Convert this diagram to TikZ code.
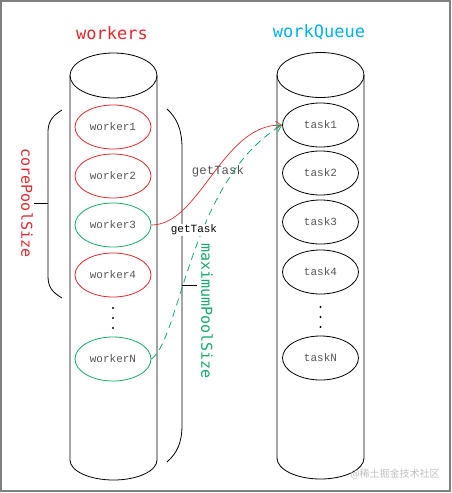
\documentclass[tikz,border=0pt]{standalone}
\usepackage{fontspec}
\newfontfamily\titlefont{DejaVu Sans Mono}
\newfontfamily\cellfont{Liberation Mono}
\newfontfamily\cjkfont{Noto Sans CJK SC}
\usepackage{tikz}
\usetikzlibrary{
    shapes.geometric,
    arrows.meta
}
\definecolor{wred}{RGB}{225,40,45}
\definecolor{wgreen}{RGB}{20,170,105}
\definecolor{qblue}{RGB}{0,176,240}
\definecolor{cellgray}{RGB}{85,85,85}
\tikzset{
    cell/.style={
        draw,
        ellipse,
        minimum width=76pt,
        minimum height=44pt,
        inner sep=0pt,
        line width=0.8pt,
        text=cellgray,
        font=\cellfont\fontsize{11}{11}\selectfont
    },
    title/.style={
        font=\titlefont\fontsize{17}{17}\selectfont
    },
    sizelabel/.style={
        rotate=-90,
        font=\titlefont\fontsize{15}{15}\selectfont
    },
    tube/.style={
        line width=0.8pt
    }
}

\begin{document}
\begin{tikzpicture}[
    x=1pt,
    y=-1pt,
    >={Straight Barb[length=6pt,width=7pt]}
]
    \useasboundingbox (0,0) rectangle (451,493);
    \draw[gray, line width=1.5pt] (1,1) rectangle (450,491);

    % Cylinders
    \draw[tube] (113.5,75.5) ellipse [x radius=43.5, y radius=22.5];
    \draw[tube] (70,75.5) -- (70,460)
        arc[start angle=180, end angle=0, x radius=43.5, y radius=20]
        -- (157,75.5);
    \draw[tube] (320.5,75) ellipse [x radius=43.5, y radius=22.5];
    \draw[tube] (277,75) -- (277,458)
        arc[start angle=180, end angle=0, x radius=43.5, y radius=21]
        -- (364,75);

    % Titles
    \node[title, text=wred]  (workers) at (112,33) {workers};
    \node[title, text=qblue] (queue)   at (319,32) {workQueue};

    % Workers
    \node[cell, draw=wred]   (w1) at (113,127) {worker1};
    \node[cell, draw=wred]   (w2) at (113,176) {worker2};
    \node[cell, draw=wgreen] (w3) at (113,225) {worker3};
    \node[cell, draw=wred]   (w4) at (113,275) {worker4};
    \node[cell, draw=wgreen] (wN) at (113,359) {workerN};
    \foreach \y in {308,318,328}
        \fill (113,\y) circle (1.2);

    % Tasks
    \node[cell] (t1) at (320.5,125) {task1};
    \node[cell] (t2) at (320.5,173) {task2};
    \node[cell] (t3) at (320.5,222) {task3};
    \node[cell] (t4) at (320.5,272) {task4};
    \node[cell] (tN) at (320.5,358) {taskN};
    \foreach \y in {307,317,327}
        \fill (320.5,\y) circle (1.2);

    % Braces
    \draw[tube] (62,110) .. controls (52,116) and (48,122) .. (48,132)
        -- (48,276) .. controls (48,287) and (52,292) .. (62,298);
    \draw[tube] (34,203) -- (48,203);
    \node[sizelabel, text=wred] (core) at (27,203) {corePoolSize};

    \draw[tube] (167,109) .. controls (177,118) and (182,130) .. (182,148)
        -- (182,425) .. controls (182,443) and (177,453) .. (167,462);
    \draw[tube] (182,285) -- (197,285);
    \node[sizelabel, text=wgreen] (maxsize) at (207,311) {maximumPoolSize};

    % getTask
    \draw[->, wred, line width=0.7pt] (w3.east)
        .. controls (200,225) and (222,124) .. (t1.west);
    \draw[->, wgreen, dashed, dash pattern=on 7pt off 5pt, line width=0.8pt] (wN.east)
        .. controls (180,340) and (190,180) .. (t1.west);
    \node[text=cellgray, font=\cellfont\fontsize{12.4}{12.4}\selectfont]
        (get1) at (218,171) {getTask};
    \node[fill=white, inner sep=1pt, font=\cellfont\fontsize{11}{11}\selectfont]
        (get2) at (194,230) {getTask};

    % Watermark
    \node[text=black!25, font=\cjkfont\fontsize{10}{10}\selectfont]
        (mark) at (395,474) {@稀土掘金技术社区};

\end{tikzpicture}
\end{document}
